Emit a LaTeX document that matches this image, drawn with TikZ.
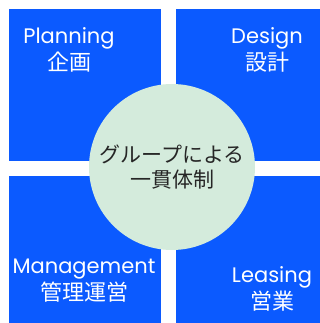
\documentclass[tikz,border=0pt]{standalone}
\usepackage{fontspec}
\setmainfont{Poppins}
\newfontfamily\jpfont{Noto Sans CJK JP}
\usetikzlibrary{positioning}
\definecolor{tileblue}{RGB}{11,90,255}
\definecolor{hubgreen}{RGB}{212,235,220}
\tikzset{
  tile/.style n args={2}{rectangle,fill=tileblue,minimum width=#1,minimum height=#2,
    inner sep=0pt,anchor=north west},
  lbl/.style={text=white,align=center,inner sep=0pt,
    font=\fontsize{21}{27}\selectfont},
  hub/.style={circle,fill=hubgreen,minimum size=166pt,inner sep=0pt,align=center,
    text=black!85,font=\fontsize{21}{25}\selectfont\jpfont}
}
\begin{document}
\begin{tikzpicture}[x=1pt,y=-1pt]
  \useasboundingbox (0,0) rectangle (320,323);
  % four tiles
  \node[tile={152pt}{152pt}] (plan) at (9,9) {};
  \node[tile={144pt}{152pt}] (design) at (176,9) {};
  \node[tile={152pt}{147pt}] (manage) at (9,176) {};
  \node[tile={144pt}{147pt}] (lease) at (176,176) {};
  % tile labels
  \node[lbl] (plantxt) at (69,50) {Planning\\{\fontsize{22}{27}\jpfont 企画}};
  \node[lbl] (designtxt) at (267,50) {Design\\{\fontsize{22}{27}\jpfont 設計}};
  \node[lbl] (managetxt) at (84,281) {Management\\{\fontsize{22}{27}\jpfont 管理運営}};
  \node[lbl] (leasetxt) at (272,289) {Leasing\\{\fontsize{22}{27}\jpfont 営業}};
  % hub in the middle
  \node[hub] (group) at (172,167) {グループによる\\一貫体制};
\end{tikzpicture}
\end{document}
